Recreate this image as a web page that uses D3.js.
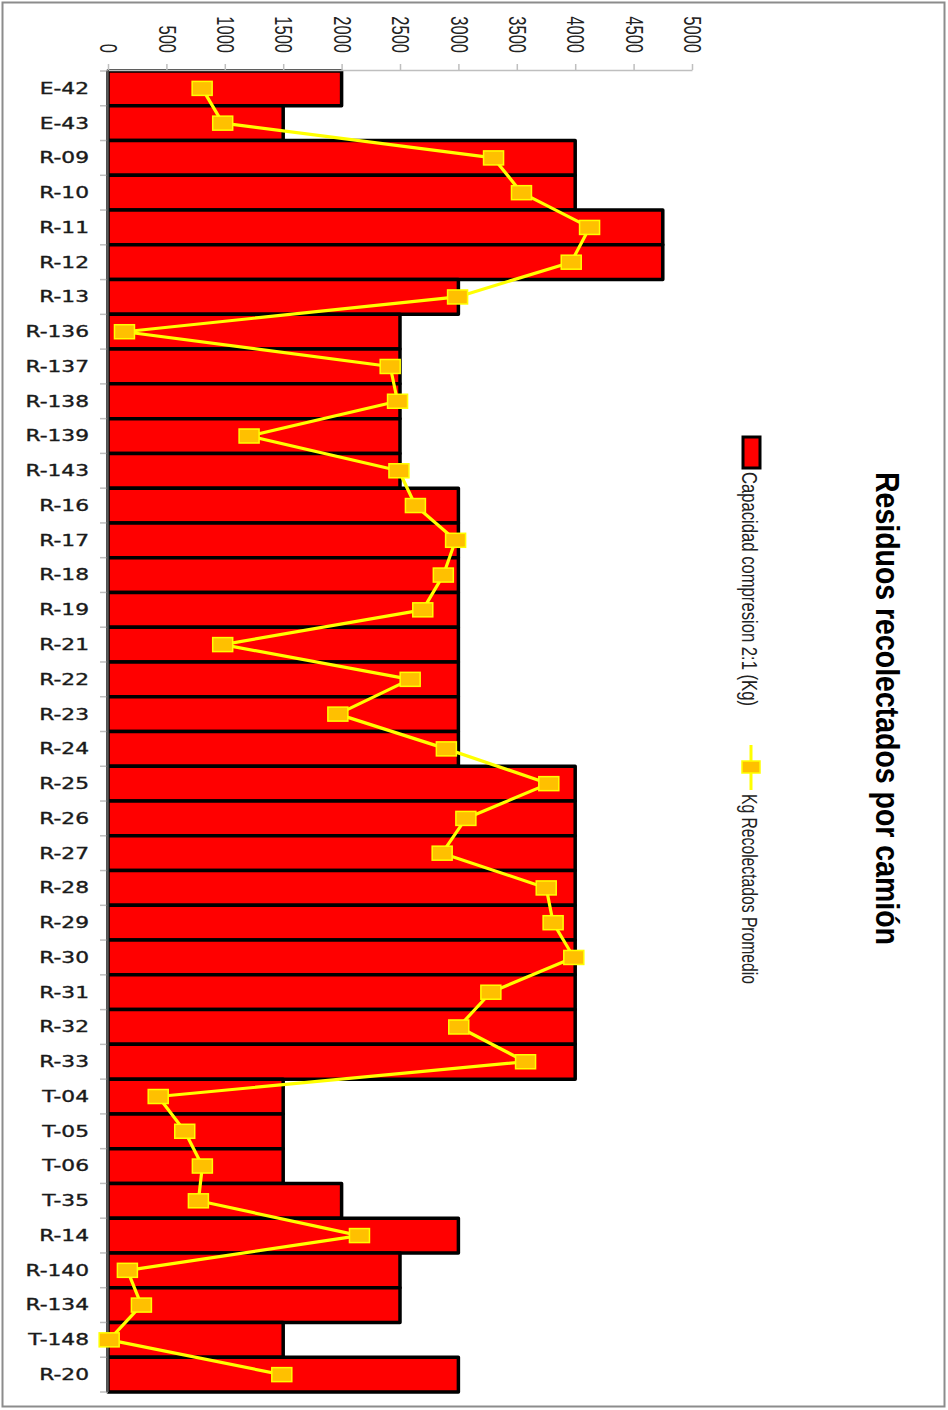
<!DOCTYPE html>
<html>
<head>
<meta charset="utf-8">
<script src="https://cdn.jsdelivr.net/npm/d3@7"></script>
<style>
  html, body { margin: 0; padding: 0; background: #fff; }
  svg { display: block; }
</style>
</head>
<body>
<svg id="chart" width="948" height="1410"></svg>
<script>
// ---- data ----
const categories = ["E-42","E-43","R-09","R-10","R-11","R-12","R-13","R-136","R-137","R-138","R-139","R-143",
  "R-16","R-17","R-18","R-19","R-21","R-22","R-23","R-24","R-25","R-26","R-27","R-28","R-29","R-30",
  "R-31","R-32","R-33","T-04","T-05","T-06","T-35","R-14","R-140","R-134","T-148","R-20"];
const capacidad = [2000,1500,4000,4000,4750,4750,3000,2500,2500,2500,2500,2500,
  3000,3000,3000,3000,3000,3000,3000,3000,4000,4000,4000,4000,4000,4000,
  4000,4000,4000,1500,1500,1500,2000,3000,2500,2500,1500,3000];
const recolectados = [806,982,3301,3540,4123,3966,2993,141,2416,2479,1208,2491,
  2632,2976,2871,2695,982,2587,1968,2897,3774,3064,2861,3752,3811,3988,
  3278,3003,3575,430,657,808,774,2153,166,286,10,1488];
const tickValues = [0,500,1000,1500,2000,2500,3000,3500,4000,4500,5000];
const titleText = "Residuos recolectados por camión";
const legendLabels = ["Capacidad compresion 2:1 (Kg)", "Kg Recolectados Promedio"];

// ---- layout ----
const svg = d3.select("#chart");
const x = d3.scaleLinear().domain([0, 5000]).range([108, 692]);
const y = d3.scaleBand().domain(categories).range([71, 1392]).paddingInner(0).paddingOuter(0);
const axisY = 70;

// frame
svg.append("rect").attr("x", 2.5).attr("y", 2.5).attr("width", 942).attr("height", 1404)
  .attr("fill", "#fff").attr("stroke", "#8c8c8c").attr("stroke-width", 2);

// bars
svg.append("g").selectAll("rect").data(categories).join("rect")
  .attr("x", x(0))
  .attr("y", d => y(d))
  .attr("width", (d, i) => x(capacidad[i]) - x(0))
  .attr("height", y.bandwidth())
  .attr("fill", "#ff0000")
  .attr("stroke", "#000")
  .attr("stroke-width", 3.5)
  .attr("stroke-linejoin", "round");

// value axis (top)
const gx = svg.append("g").attr("transform", `translate(0,${axisY})`)
  .call(d3.axisTop(x).tickValues(tickValues).tickSize(6).tickSizeOuter(0).tickFormat(d3.format("d")));
gx.select(".domain").attr("stroke", "#bfbfbf").attr("stroke-width", 1.5);
gx.selectAll(".tick line").attr("stroke", "#bfbfbf").attr("stroke-width", 1.5);
gx.selectAll(".tick text")
  .attr("y", null).attr("dy", "0.35em")
  .attr("text-anchor", "end")
  .attr("transform", "translate(0,-17) rotate(90) scale(1,1.45)")
  .attr("font-family", "Liberation Sans, Arial, sans-serif")
  .attr("font-size", 16.5)
  .attr("fill", "#222");

// category axis (left)
const gy = svg.append("g");
const bounds = categories.map(d => y(d)).concat([y.range()[1]]);
gy.selectAll("line.tk").data(bounds).join("line").attr("class", "tk")
  .attr("x1", x(0) - 8).attr("x2", x(0)).attr("y1", d => d).attr("y2", d => d)
  .attr("stroke", "#bfbfbf").attr("stroke-width", 1.5);
gy.append("line").attr("x1", x(0) - 0.5).attr("x2", x(0) - 0.5)
  .attr("y1", y.range()[0]).attr("y2", y.range()[1])
  .attr("stroke", "#5a5a5a").attr("stroke-width", 2.5);
gy.selectAll("text").data(categories).join("text")
  .attr("transform", d => `translate(89,${y(d) + y.bandwidth() / 2}) scale(1.45,1)`)
  .attr("dy", "0.36em")
  .attr("text-anchor", "end")
  .attr("font-family", "DejaVu Sans, Verdana, sans-serif")
  .attr("font-size", 15)
  .attr("fill", "#1a1a1a")
  .attr("stroke", "#1a1a1a").attr("stroke-width", 0.35)
  .text(d => d);

// line series
const pts = categories.map((d, i) => [x(recolectados[i]), y(d) + y.bandwidth() / 2]);
svg.append("path").datum(pts)
  .attr("d", d3.line())
  .attr("fill", "none").attr("stroke", "#ffff00").attr("stroke-width", 3.2)
  .attr("stroke-linejoin", "round");
svg.append("g").selectAll("rect").data(pts).join("rect")
  .attr("x", d => d[0] - 10).attr("y", d => d[1] - 7)
  .attr("width", 20).attr("height", 14)
  .attr("fill", "#ffc000").attr("stroke", "#ffff00").attr("stroke-width", 1.5);

// title
svg.append("text")
  .attr("transform", "translate(876,472) rotate(90) scale(1,1.45)")
  .attr("font-family", "Liberation Sans, Arial, sans-serif")
  .attr("font-weight", "bold")
  .attr("font-size", 23)
  .attr("textLength", 473).attr("lengthAdjust", "spacingAndGlyphs")
  .attr("fill", "#000")
  .text(titleText);

// legend
const lg = svg.append("g");
lg.append("rect").attr("x", 743).attr("y", 437).attr("width", 17).attr("height", 31)
  .attr("fill", "#ff0000").attr("stroke", "#000").attr("stroke-width", 3);
lg.append("text")
  .attr("transform", "translate(742,472) rotate(90) scale(1,1.45)")
  .attr("font-family", "Liberation Sans, Arial, sans-serif")
  .attr("font-size", 15)
  .attr("textLength", 234).attr("lengthAdjust", "spacingAndGlyphs")
  .attr("fill", "#222")
  .text(legendLabels[0]);
lg.append("line").attr("x1", 751).attr("x2", 751).attr("y1", 745).attr("y2", 790)
  .attr("stroke", "#ffff00").attr("stroke-width", 3);
lg.append("rect").attr("x", 742).attr("y", 761).attr("width", 18).attr("height", 12)
  .attr("fill", "#ffc000").attr("stroke", "#ffff00").attr("stroke-width", 1.5);
lg.append("text")
  .attr("transform", "translate(742,794) rotate(90) scale(1,1.45)")
  .attr("font-family", "Liberation Sans, Arial, sans-serif")
  .attr("font-size", 15)
  .attr("textLength", 190).attr("lengthAdjust", "spacingAndGlyphs")
  .attr("fill", "#222")
  .text(legendLabels[1]);
</script>
</body>
</html>
